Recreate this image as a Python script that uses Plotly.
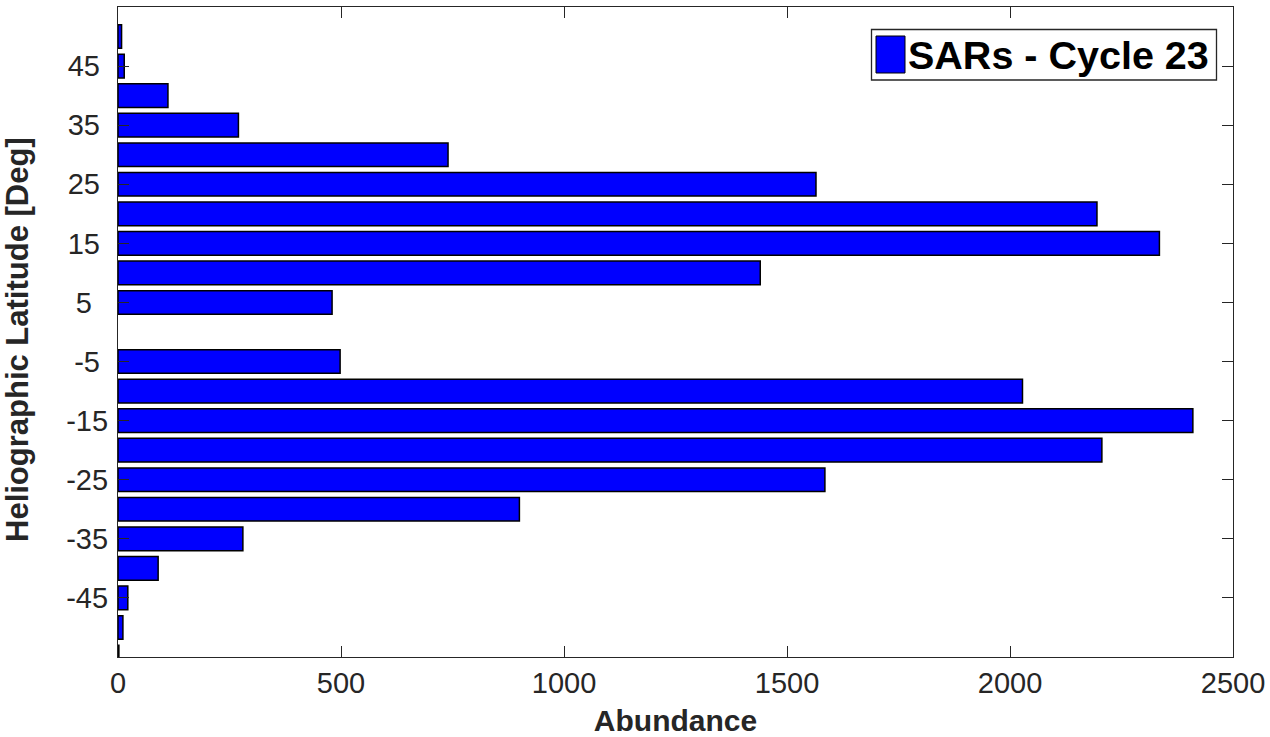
import plotly.graph_objects as go

# Data
latitudes = [-55, -50, -45, -40, -35, -30, -25, -20, -15, -10, -5, 0,
             5, 10, 15, 20, 25, 30, 35, 40, 45, 50]
abundance = [2, 11, 22, 90, 280, 900, 1585, 2206, 2410, 2028, 498, None,
             480, 1440, 2335, 2195, 1565, 740, 270, 112, 14, 8]
series_name = "SARs - Cycle 23"
ytick_vals = [-45, -35, -25, -15, -5, 5, 15, 25, 35, 45]
ytick_text = ["-45", "-35", "-25", "-15", "-5\u00a0", "5\u00a0\u00a0",
              "15\u00a0", "25\u00a0", "35\u00a0", "45\u00a0"]
xtick_vals = [0, 500, 1000, 1500, 2000, 2500]
x_title = "Abundance"
y_title = "Heliographic Latitude [Deg]"

FONT = "Liberation Sans, Arial, Helvetica, sans-serif"
AXC = "#262626"

# plot area (page coords) x 118..1233, y 7..657 ; body margin removed below
L, T, PW, PH = 118, 7, 1115, 650
fig = go.Figure()
fig.add_trace(go.Bar(
    x=abundance, y=latitudes, orientation="h", name=series_name,
    width=4, marker=dict(color="#0000FF", line=dict(color="black", width=1.5)),
    showlegend=False,
))

fig.update_layout(
    width=1270, height=737,
    margin=dict(l=L, r=1270 - L - PW, t=T, b=737 - T - PH),
    plot_bgcolor="white", paper_bgcolor="white",
    font=dict(family=FONT, size=29, color=AXC),
    xaxis=dict(
        range=[0, 2500], tickvals=xtick_vals, ticks="inside", ticklen=11,
        tickcolor=AXC, tickwidth=1.3, showline=True, linecolor=AXC, linewidth=1.3,
        mirror="ticks", showgrid=False, zeroline=False, automargin=False,
        tickfont=dict(size=29, color=AXC),
        title=dict(text="<b>" + x_title + "</b>", font=dict(size=30, color=AXC), standoff=12),
    ),
    yaxis=dict(
        range=[-55, 55], tickvals=ytick_vals, ticktext=ytick_text, ticks="inside",
        ticklen=11, tickcolor=AXC, tickwidth=1.3, showline=True, linecolor=AXC,
        linewidth=1.3, mirror="ticks", showgrid=False, zeroline=False, automargin=False,
        tickfont=dict(size=29, color=AXC), ticklabelstandoff=3,
    ),
)

def px(xp):
    return (xp - L) / PW

def py(yp):
    return (T + PH - yp) / PH

# Y-axis title (placed to match the reference position)
fig.add_annotation(xref="paper", yref="paper", x=px(17), y=py(340),
                   xanchor="center", yanchor="middle", textangle=-90,
                   text="<b>" + y_title + "</b>", showarrow=False,
                   font=dict(family=FONT, size=31, color=AXC))

# Custom legend box (MATLAB style)
fig.add_shape(type="rect", xref="paper", yref="paper",
              x0=px(871.5), x1=px(1216.5), y0=py(80), y1=py(29.5),
              line=dict(color=AXC, width=1.3), fillcolor="white", layer="above")
fig.add_shape(type="rect", xref="paper", yref="paper",
              x0=px(876), x1=px(905), y0=py(73), y1=py(36),
              line=dict(color="black", width=1), fillcolor="#0000FF", layer="above")
fig.add_annotation(xref="paper", yref="paper", x=px(906), y=py(55),
                   xanchor="left", yanchor="middle",
                   text="<b>" + series_name + "</b>", showarrow=False,
                   font=dict(family=FONT, size=39.5, color="black"))

fig.write_html("out.html", config={"displayModeBar": False},
               post_script="document.body.style.margin='0';document.body.style.overflow='hidden';")
